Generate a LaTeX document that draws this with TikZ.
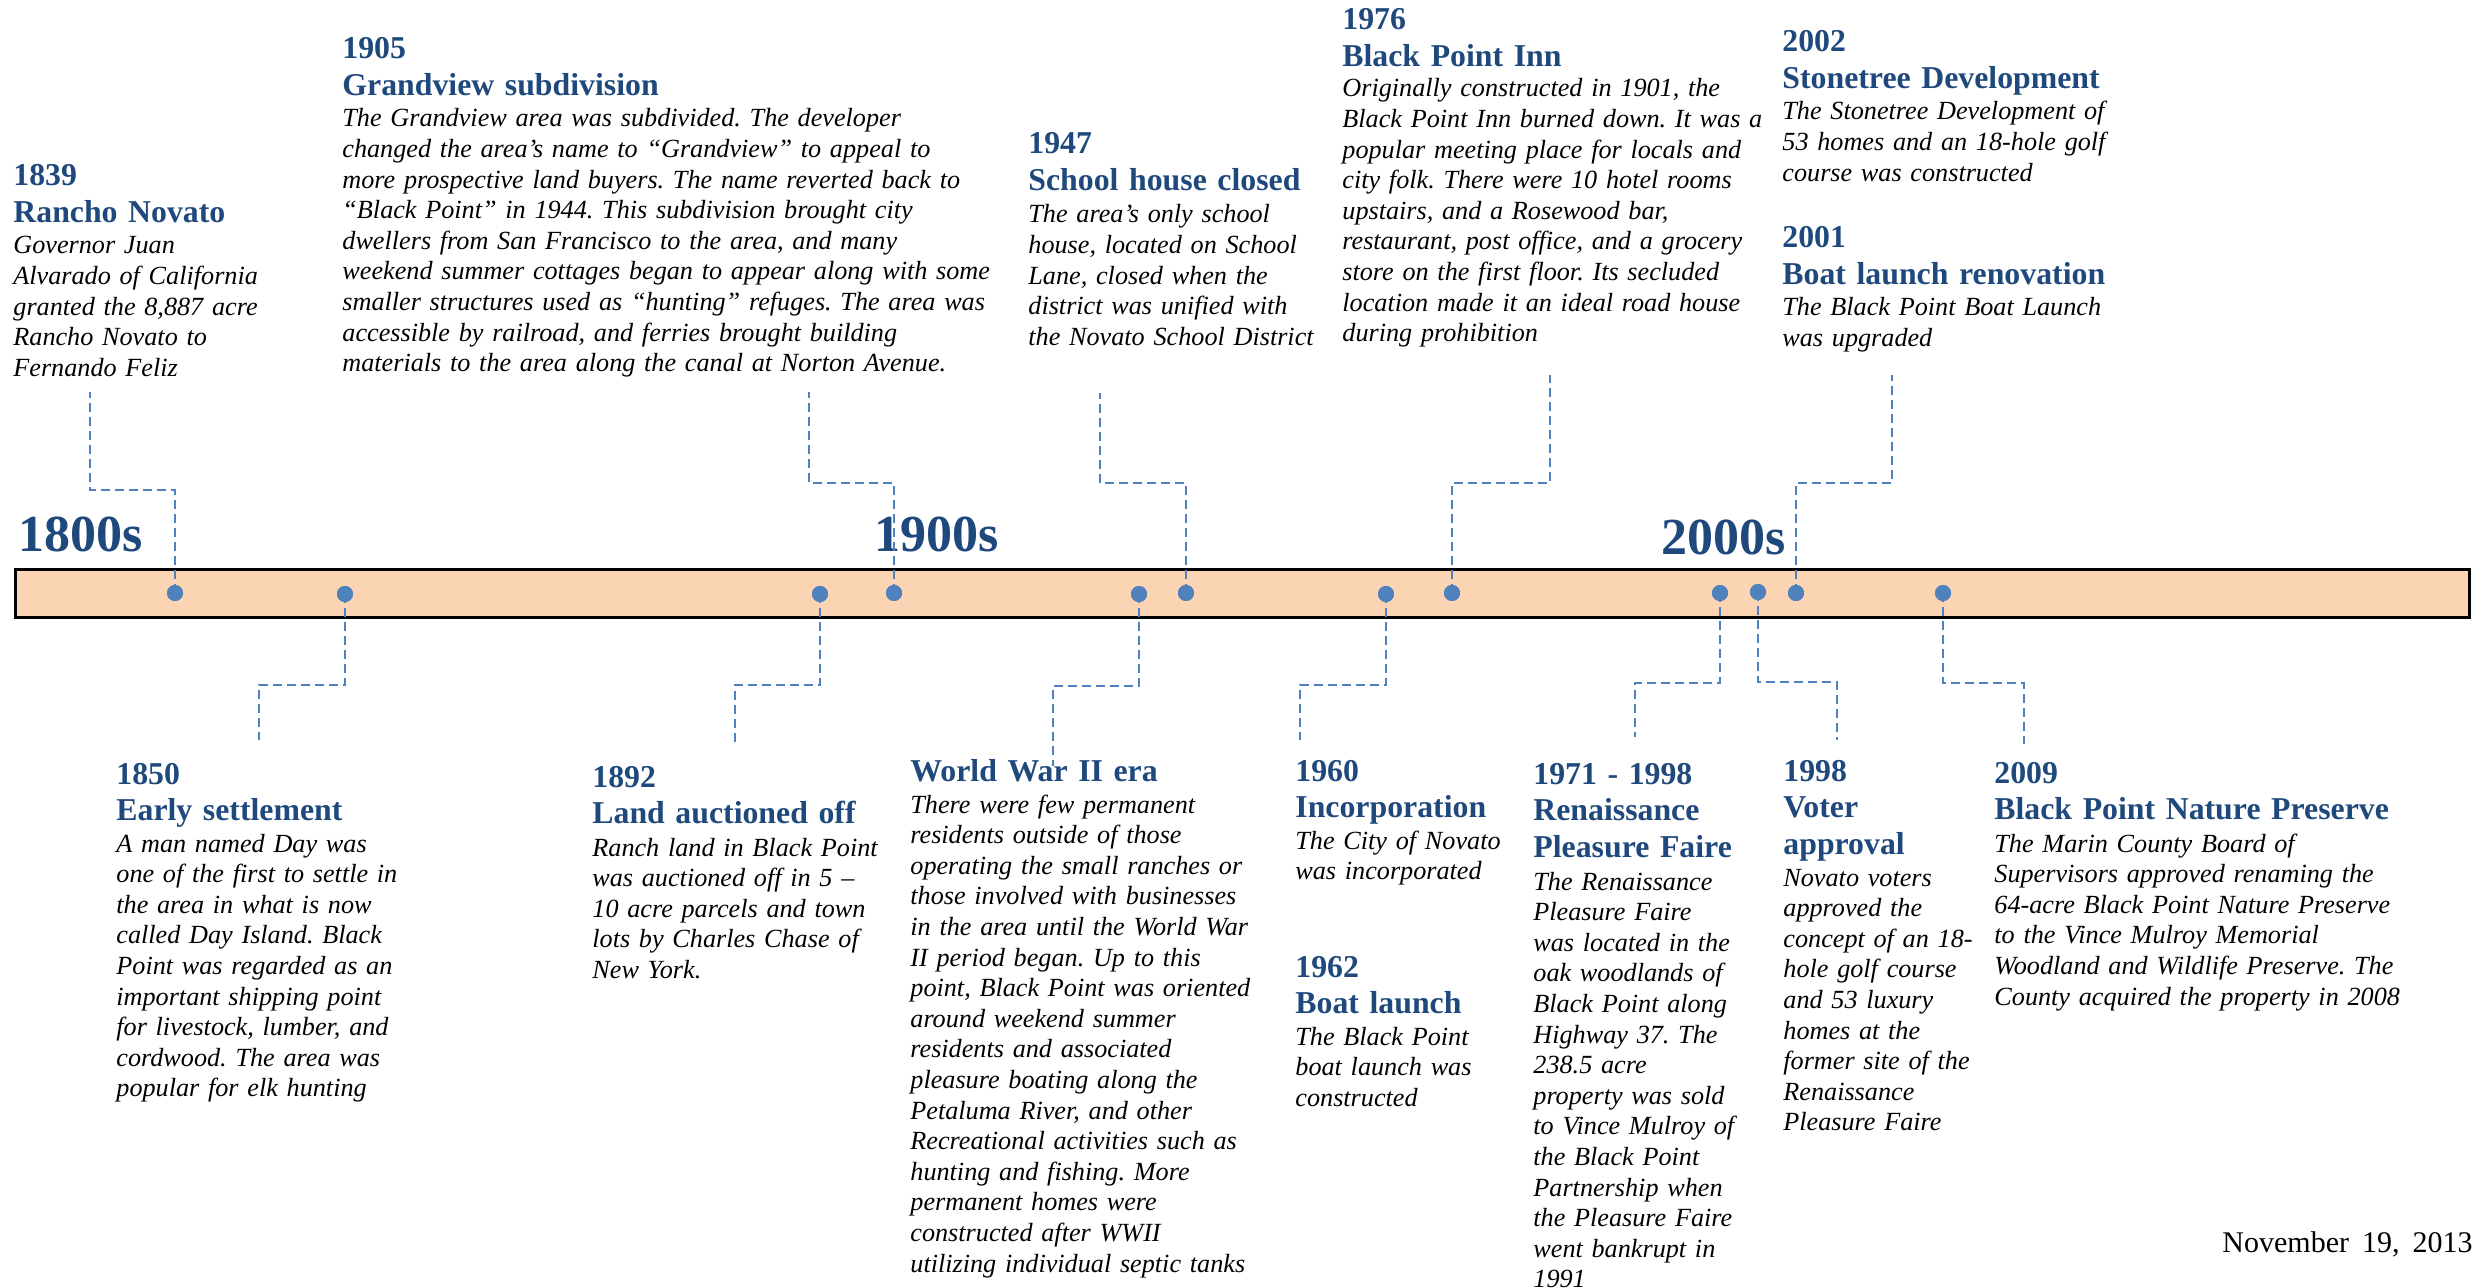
\documentclass[tikz,border=0pt]{standalone}
\usepackage{fontspec}
\setmainfont{Liberation Serif}
\frenchspacing
\definecolor{headblue}{HTML}{1F497D}
\definecolor{dotblue}{HTML}{4F81BD}
\definecolor{barfill}{HTML}{FBD4B4}
\tikzset{
  decade/.style={anchor=base west, inner sep=0, font=\fontsize{26}{30}\selectfont\bfseries, text=headblue},
  head/.style={anchor=base west, inner sep=0, text width=400pt, align=left, font=\fontsize{15.9}{18.25}\selectfont\bfseries, text=headblue},
  body/.style={anchor=base west, inner sep=0, text width=400pt, align=left, font=\fontsize{13.1}{15.3}\selectfont\itshape\frenchspacing},
  evdot/.style={circle, fill=dotblue, inner sep=0, minimum size=8pt},
  conn/.style={draw=dotblue, line width=1pt, dash pattern=on 4.5pt off 2.5pt},
  timebar/.style={draw=black, line width=1.5pt, fill=barfill, anchor=north west, inner sep=0, minimum width=1227pt, minimum height=24pt},
  datestyle/.style={anchor=base west, inner sep=0, font=\fontsize{15}{18}\selectfont},
}
\begin{document}
\begin{tikzpicture}[x=0.5pt, y=-0.5pt]
\useasboundingbox (0,0) rectangle (2473,1288);

% timeline bar
\node[timebar] (bar) at (14,568) {};

% decades
\node[decade] (dec1800) at (18,552) {1800s};
\node[decade] (dec1900) at (874,552) {1900s};
\node[decade] (dec2000) at (1661,555) {2000s};

% dots
\node[evdot] (d1839) at (175,593) {};
\node[evdot] (d1850) at (345,594) {};
\node[evdot] (d1892) at (820,594) {};
\node[evdot] (d1905) at (894,593) {};
\node[evdot] (dWWII) at (1139,594) {};
\node[evdot] (d1947) at (1186,593) {};
\node[evdot] (d1960) at (1386,594) {};
\node[evdot] (d1976) at (1452,593) {};
\node[evdot] (d1971) at (1720,593) {};
\node[evdot] (d1998) at (1758,592) {};
\node[evdot] (d2002) at (1796,593) {};
\node[evdot] (d2009) at (1943,593) {};

% connector ends
\coordinate (k1839) at (90,490);   \coordinate (e1839) at (90,392);
\coordinate (k1905) at (809,483);  \coordinate (e1905) at (809,392);
\coordinate (k1947) at (1100,483); \coordinate (e1947) at (1100,393);
\coordinate (k1976) at (1550,483); \coordinate (e1976) at (1550,375);
\coordinate (k2002) at (1892,483); \coordinate (e2002) at (1892,375);
\coordinate (k1850) at (259,685);  \coordinate (e1850) at (259,740);
\coordinate (k1892) at (735,685);  \coordinate (e1892) at (735,746);
\coordinate (kWWII) at (1053,686); \coordinate (eWWII) at (1053,766);
\coordinate (k1960) at (1300,685); \coordinate (e1960) at (1300,740);
\coordinate (k1971) at (1635,683); \coordinate (e1971) at (1635,737);
\coordinate (k1998) at (1837,682); \coordinate (e1998) at (1837,740);
\coordinate (k2009) at (2024,683); \coordinate (e2009) at (2024,744);

\foreach \n in {1839,1905,1947,1976,2002,1850,1892,WWII,1960,1971,1998,2009}
  \draw[conn] (d\n.center) |- (k\n) -- (e\n);
\foreach \n in {1839,1905,1947,1976,2002,1850,1892,WWII,1960,1971,1998,2009}
  \node[evdot] at (d\n.center) {};

% upper events
\node[head] (h1839) at (13,186) {1839\\Rancho Novato};
\node[body] (b1839) at (13,254) {Governor Juan\\Alvarado of California\\granted the 8,887 acre\\Rancho Novato to\\Fernando Feliz};

\node[head] (h1905) at (342,59) {1905\\Grandview subdivision};
\node[body] (b1905) at (342,127) {The Grandview area was subdivided. The developer\\changed the area’s name to “Grandview” to appeal to\\more prospective land buyers. The name reverted back to\\“Black Point” in 1944. This subdivision brought city\\dwellers from San Francisco to the area, and many\\weekend summer cottages began to appear along with some\\smaller structures used as “hunting” refuges. The area was\\accessible by railroad, and ferries brought building\\materials to the area along the canal at Norton Avenue.};

\node[head] (h1947) at (1028,154) {1947\\School house closed};
\node[body] (b1947) at (1028,223) {The area’s only school\\house, located on School\\Lane, closed when the\\district was unified with\\the Novato School District};

\node[head] (h1976) at (1342,30) {1976\\Black Point Inn};
\node[body] (b1976) at (1342,97) {Originally constructed in 1901, the\\Black Point Inn burned down. It was a\\popular meeting place for locals and\\city folk. There were 10 hotel rooms\\upstairs, and a Rosewood bar,\\restaurant, post office, and a grocery\\store on the first floor. Its secluded\\location made it an ideal road house\\during prohibition};

\node[head] (h2002) at (1782,52) {2002\\Stonetree Development};
\node[body] (b2002) at (1782,120) {The Stonetree Development of\\53 homes and an 18-hole golf\\course was constructed};

\node[head] (h2001) at (1782,248) {2001\\Boat launch renovation};
\node[body] (b2001) at (1782,316) {The Black Point Boat Launch\\was upgraded};

% lower events
\node[head] (h1850) at (116,784) {1850\\Early settlement};
\node[body] (b1850) at (116,852) {A man named Day was\\one of the first to settle in\\the area in what is now\\called Day Island. Black\\Point was regarded as an\\important shipping point\\for livestock, lumber, and\\cordwood. The area was\\popular for elk hunting};

\node[head] (h1892) at (592,787) {1892\\Land auctioned off};
\node[body] (b1892) at (592,856) {Ranch land in Black Point\\was auctioned off in 5 –\\10 acre parcels and town\\lots by Charles Chase of\\New York.};

\node[head] (hWWII) at (910,781) {World War II era};
\node[body] (bWWII) at (910,813) {There were few permanent\\residents outside of those\\operating the small ranches or\\those involved with businesses\\in the area until the World War\\II period began. Up to this\\point, Black Point was oriented\\around weekend summer\\residents and associated\\pleasure boating along the\\Petaluma River, and other\\Recreational activities such as\\hunting and fishing. More\\permanent homes were\\constructed after WWII\\utilizing individual septic tanks};

\node[head] (h1960) at (1295,781) {1960\\Incorporation};
\node[body] (b1960) at (1295,849) {The City of Novato\\was incorporated};

\node[head] (h1962) at (1295,977) {1962\\Boat launch};
\node[body] (b1962) at (1295,1045) {The Black Point\\boat launch was\\constructed};

\node[head] (h1971) at (1533,784) {1971 - 1998\\Renaissance\\Pleasure Faire};
\node[body] (b1971) at (1533,890) {The Renaissance\\Pleasure Faire\\was located in the\\oak woodlands of\\Black Point along\\Highway 37. The\\238.5 acre\\property was sold\\to Vince Mulroy of\\the Black Point\\Partnership when\\the Pleasure Faire\\went bankrupt in\\1991};

\node[head] (h1998) at (1783,781) {1998\\Voter\\approval};
\node[body] (b1998) at (1783,886) {Novato voters\\approved the\\concept of an 18-\\hole golf course\\and 53 luxury\\homes at the\\former site of the\\Renaissance\\Pleasure Faire};

\node[head] (h2009) at (1994,783) {2009\\Black Point Nature Preserve};
\node[body] (b2009) at (1994,852) {The Marin County Board of\\Supervisors approved renaming the\\64-acre Black Point Nature Preserve\\to the Vince Mulroy Memorial\\Woodland and Wildlife Preserve. The\\County acquired the property in 2008};

\node[datestyle] (date) at (2222,1252) {November\hspace{6.5pt}19,\hspace{6.5pt}2013};
\end{tikzpicture}
\end{document}
